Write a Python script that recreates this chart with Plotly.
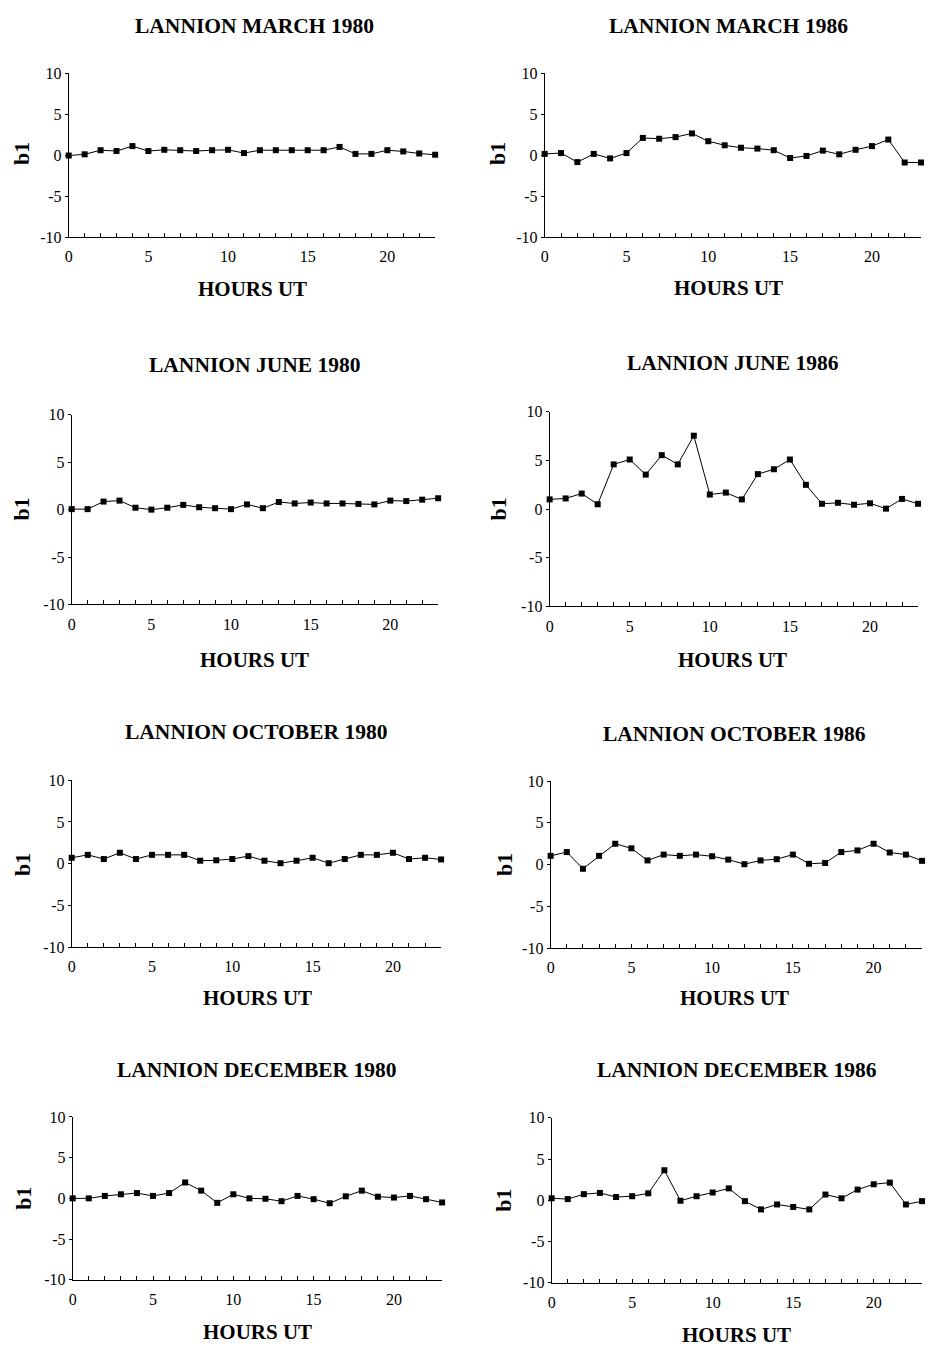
import plotly.graph_objects as go

hours = list(range(24))

titles = [
    "LANNION MARCH 1980", "LANNION MARCH 1986",
    "LANNION JUNE 1980", "LANNION JUNE 1986",
    "LANNION OCTOBER 1980", "LANNION OCTOBER 1986",
    "LANNION DECEMBER 1980", "LANNION DECEMBER 1986",
]

march_1980 = [-0.05, 0.1, 0.6, 0.5, 1.1, 0.5, 0.65, 0.6, 0.5, 0.6, 0.65, 0.25,
              0.6, 0.6, 0.6, 0.6, 0.6, 1.0, 0.15, 0.15, 0.6, 0.45, 0.2, 0.05]
march_1986 = [0.15, 0.25, -0.85, 0.15, -0.4, 0.25, 2.1, 2.0, 2.2, 2.65, 1.7, 1.2,
              0.9, 0.8, 0.6, -0.35, -0.1, 0.55, 0.1, 0.65, 1.1, 1.9, -0.9, -0.9]
june_1980 = [0.05, 0.05, 0.85, 0.95, 0.2, 0.0, 0.2, 0.5, 0.25, 0.15, 0.05, 0.55,
             0.15, 0.8, 0.65, 0.75, 0.65, 0.65, 0.6, 0.55, 0.95, 0.9, 1.05, 1.2]
june_1986 = [1.0, 1.1, 1.6, 0.5, 4.6, 5.1, 3.55, 5.55, 4.6, 7.55, 1.5, 1.7,
             1.0, 3.6, 4.1, 5.1, 2.5, 0.55, 0.65, 0.45, 0.6, 0.05, 1.05, 0.55]
october_1980 = [0.7, 1.05, 0.55, 1.3, 0.55, 1.05, 1.05, 1.05, 0.35, 0.4, 0.55, 0.9,
                0.35, 0.05, 0.35, 0.7, 0.05, 0.55, 1.05, 1.05, 1.3, 0.55, 0.7, 0.5]
october_1986 = [1.05, 1.5, -0.5, 1.05, 2.5, 1.95, 0.5, 1.2, 1.05, 1.2, 1.0, 0.6,
                0.05, 0.5, 0.65, 1.2, 0.1, 0.2, 1.5, 1.7, 2.5, 1.45, 1.2, 0.45]
december_1980 = [0.0, 0.0, 0.3, 0.5, 0.65, 0.3, 0.65, 1.95, 0.95, -0.55, 0.5, 0.0,
                 -0.05, -0.35, 0.3, -0.1, -0.6, 0.25, 0.95, 0.2, 0.1, 0.3, -0.1, -0.5]
december_1986 = [0.25, 0.15, 0.75, 0.9, 0.4, 0.5, 0.85, 3.65, -0.05, 0.5, 0.95, 1.45,
                 -0.1, -1.1, -0.5, -0.8, -1.1, 0.7, 0.25, 1.3, 1.95, 2.15, -0.5, -0.1]

series = [march_1980, march_1986, june_1980, june_1986,
          october_1980, october_1986, december_1980, december_1986]

y_ticks = [-10, -5, 0, 5, 10]
y_ticktext = ["-10", "-5", "0", "5", "10"]
x_ticks = [0, 5, 10, 15, 20]

W, H = 930, 1354
# plot areas in pixels: (x0, x1, y_top, y_bottom)
boxes = [
    (65, 433, 66, 232), (543, 921, 66, 232),
    (68, 436, 412, 604), (548, 918, 409, 606),
    (68, 439, 782, 951), (549, 922, 783, 952),
    (69, 440, 1123, 1288), (550, 922, 1124, 1291),
]
title_pos = [(252, 18), (728, 18), (252, 362), (732, 360),
             (253, 733), (734, 735), (254, 1075), (736, 1076)]
b1_pos = [(17, 147), (495, 147), (18, 507), (497, 507),
          (18, 867), (502, 867), (20, 1205), (502, 1207)]
hours_pos = [(250, 285), (728, 284), (252, 660), (732, 660),
             (255, 1003), (734, 1003), (255, 1341), (736, 1344)]

FONT = "Liberation Serif, Times New Roman, serif"
fig = go.Figure()
layout = dict(width=W, height=H, margin=dict(l=0, r=0, t=0, b=0),
              paper_bgcolor="white", plot_bgcolor="white", showlegend=False,
              font=dict(family=FONT, color="black", size=16))
annotations = []

for i, (vals, box) in enumerate(zip(series, boxes)):
    n = i + 1
    xa = "x" if n == 1 else f"x{n}"
    ya = "y" if n == 1 else f"y{n}"
    fig.add_trace(go.Scatter(
        x=hours, y=vals, xaxis=xa, yaxis=ya, mode="lines+markers",
        line=dict(color="black", width=1),
        marker=dict(symbol="square", size=6, color="black"),
        cliponaxis=False))
    x0, x1, yt, yb = box
    xkey = "xaxis" if n == 1 else f"xaxis{n}"
    ykey = "yaxis" if n == 1 else f"yaxis{n}"
    layout[xkey] = dict(domain=[x0 / W, x1 / W], anchor=ya, range=[0, 23],
                        tickvals=x_ticks, ticks="inside", ticklen=4,
                        tickcolor="black", showline=True, linecolor="black",
                        linewidth=1, showgrid=False, zeroline=False,
                        ticklabelstandoff=5,
                        tickfont=dict(family=FONT, size=16),
                        minor=dict(tickvals=hours, ticks="inside", ticklen=4,
                                   tickcolor="black", showgrid=False))
    layout[ykey] = dict(domain=[1 - yb / H, 1 - yt / H], anchor=xa,
                        range=[-10, 10], tickvals=y_ticks,
                        ticktext=y_ticktext, ticks="outside",
                        ticklen=3, tickcolor="black", showline=True,
                        linecolor="black", linewidth=1, showgrid=False,
                        zeroline=False, tickfont=dict(family=FONT, size=16))
    tx, ty = title_pos[i]
    annotations.append(dict(text=f"<b>{titles[i]}</b>", x=tx / W, y=1 - ty / H,
                            xref="paper", yref="paper", showarrow=False,
                            xanchor="center", yanchor="middle",
                            font=dict(family=FONT, size=21.5, color="black")))
    bx, by = b1_pos[i]
    annotations.append(dict(text="<b>b1</b>", x=bx / W, y=1 - by / H,
                            xref="paper", yref="paper", showarrow=False,
                            xanchor="center", yanchor="middle", textangle=-90,
                            font=dict(family=FONT, size=22, color="black")))
    hx, hy = hours_pos[i]
    annotations.append(dict(text="<b>HOURS UT</b>", x=hx / W, y=1 - hy / H,
                            xref="paper", yref="paper", showarrow=False,
                            xanchor="center", yanchor="middle",
                            font=dict(family=FONT, size=21, color="black")))

layout["annotations"] = annotations
fig.update_layout(**layout)
fig.write_html("out.html")
